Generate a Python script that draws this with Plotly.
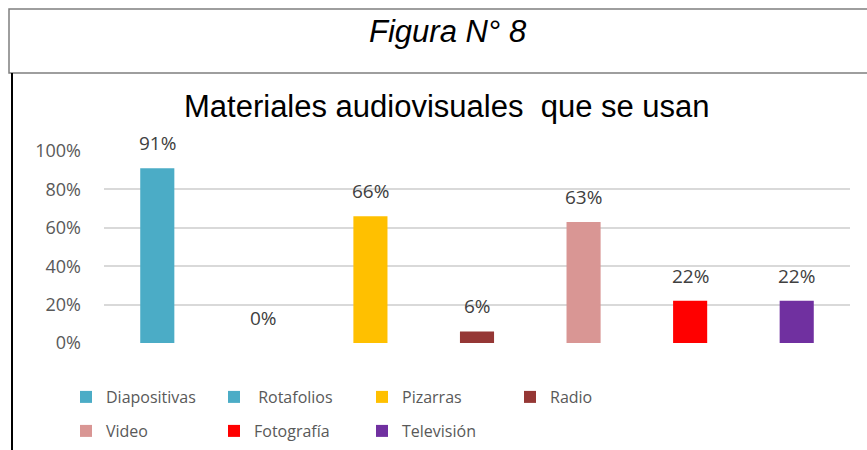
import plotly.graph_objects as go

# ==========================================================
# Data
# ==========================================================

categories = ["Diapositivas", " Rotafolios", "Pizarras", "Radio",
              "Video", "Fotografía", "Televisión"]
values = [0.91, 0.0, 0.66, 0.06, 0.63, 0.22, 0.22]
labels = ["91%", "0%", "66%", "6%", "63%", "22%", "22%"]
colors = ["#4BACC6", "#4BACC6", "#FFC000", "#953735",
          "#D99694", "#FF0000", "#7030A0"]
legend_groups = ["legend", "legend", "legend", "legend",
                 "legend2", "legend2", "legend2"]

y_ticks = [0, 0.2, 0.4, 0.6, 0.8, 1.0]
y_tick_text = ["0%", "20%", "40%", "60%", "80%", "100%"]

W, H = 867, 450
L, R, T, B = 104, 17, 151, 107
PW, PH = W - L - R, H - T - B


def px_x(x):
    return (x - L) / PW


def px_y(y):
    return (H - B - y) / PH


fig = go.Figure()

for cat, val, col, lg in zip(categories, values, colors, legend_groups):
    fig.add_trace(go.Bar(
        x=[cat],
        y=[val],
        name=cat,
        marker_color=col,
        marker_line_width=0,
        width=0.32,
        legend=lg,
    ))

for cat, val, lab in zip(categories, values, labels):
    fig.add_annotation(
        x=cat, y=val, text=lab, showarrow=False,
        yanchor="bottom", yshift=10,
        font=dict(family="Open Sans", size=19, color="#404040"),
    )

# headline box and frame line
fig.add_shape(type="rect", xref="paper", yref="paper",
              x0=px_x(9), x1=px_x(872), y0=px_y(73), y1=px_y(9),
              line=dict(color="#7f7f7f", width=1.5))
fig.add_shape(type="line", xref="paper", yref="paper",
              x0=px_x(12), x1=px_x(12), y0=px_y(73), y1=px_y(452),
              line=dict(color="#000000", width=2))

fig.add_annotation(
    xref="paper", yref="paper", x=px_x(448), y=px_y(31),
    xanchor="center", yanchor="middle",
    text="<i>Figura N° 8</i>", showarrow=False,
    font=dict(family="Liberation Sans", size=31, color="#000000"),
)
fig.add_annotation(
    xref="paper", yref="paper", x=px_x(447), y=px_y(107),
    xanchor="center", yanchor="middle",
    text="Materiales audiovisuales  que se usan", showarrow=False,
    font=dict(family="Liberation Sans", size=31, color="#000000"),
)

legend_style = dict(
    orientation="h",
    xanchor="left",
    yanchor="middle",
    entrywidth=103,
    entrywidthmode="pixels",
    itemwidth=30,
    font=dict(family="Open Sans", size=16, color="#595959"),
    bgcolor="rgba(0,0,0,0)",
    itemclick=False,
)

fig.update_layout(
    width=W,
    height=H,
    barmode="overlay",
    plot_bgcolor="white",
    paper_bgcolor="white",
    margin=dict(l=L, r=R, t=T, b=B, autoexpand=False),
    legend=dict(x=px_x(66), y=px_y(397), **legend_style),
    legend2=dict(x=px_x(66), y=px_y(431), **legend_style),
    xaxis=dict(
        showticklabels=False,
        showgrid=False,
        showline=False,
        ticks="",
    ),
    yaxis=dict(
        range=[0, 1.0],
        tickvals=y_ticks,
        ticktext=y_tick_text,
        showgrid=True,
        gridcolor="#d9d9d9",
        gridwidth=1.5,
        zeroline=False,
        showline=False,
        ticklabelstandoff=22,
        tickfont=dict(family="Open Sans", size=18, color="#595959"),
    ),
    showlegend=True,
)

# the page body has a default 8px margin; drop it so the figure sits at 0,0
fig.write_html(
    "out.html",
    config={"displayModeBar": False},
    post_script="document.body.style.margin='0';",
)
